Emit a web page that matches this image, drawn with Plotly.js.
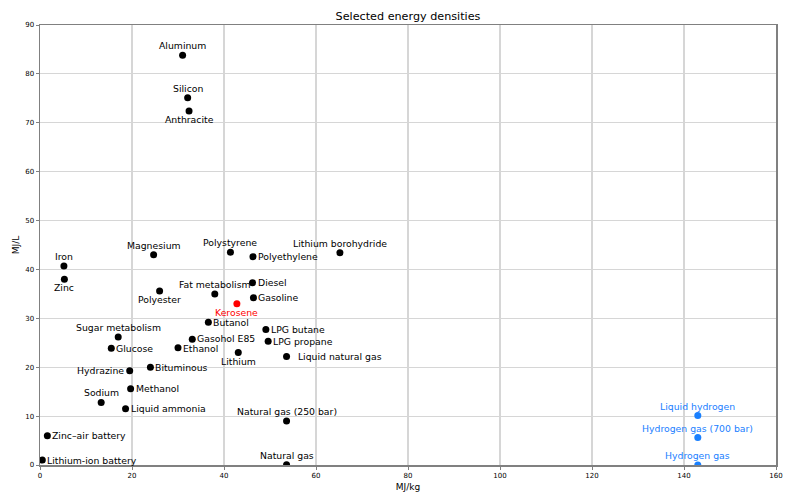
<!DOCTYPE html>
<html>
<head>
<meta charset="utf-8">
<script src="https://cdn.plot.ly/plotly-3.0.1.min.js"></script>
<style>html,body{margin:0;padding:0;background:#fff;}#chart{width:800px;height:500px;}</style>
</head>
<body>
<div id="chart"></div>
<script>
// Data (MJ/kg, MJ/L)
const names = ["Aluminum","Silicon","Anthracite","Iron","Zinc","Magnesium","Polyester",
  "Sugar metabolism","Glucose","Hydrazine","Bituminous","Methanol","Sodium","Liquid ammonia",
  "Zinc–air battery","Lithium-ion battery","Ethanol","Gasohol E85","Polystyrene","Polyethylene",
  "Lithium borohydride","Fat metabolism","Diesel","Gasoline","Kerosene","Butanol","LPG butane",
  "LPG propane","Lithium","Liquid natural gas","Natural gas (250 bar)","Natural gas",
  "Liquid hydrogen","Hydrogen gas (700 bar)","Hydrogen gas"];
const mjPerKg = [31.0,32.1,32.4,5.2,5.3,24.7,26.0,
  17.0,15.5,19.5,24.0,19.7,13.3,18.6,
  1.6,0.5,30.0,33.1,41.4,46.3,
  65.2,38.0,46.2,46.4,42.8,36.6,49.1,
  49.6,43.1,53.6,53.6,53.6,
  143.0,143.0,143.0];
const mjPerL = [83.8,75.1,72.4,40.7,38.0,43.0,35.6,
  26.2,23.9,19.3,20.0,15.6,12.8,11.5,
  6.0,1.0,24.0,25.7,43.5,42.6,
  43.4,35.0,37.3,34.2,33.0,29.2,27.7,
  25.3,23.0,22.2,9.0,0.0364,
  10.1,5.6,0.0108];
const group = ["other","other","other","other","other","other","other",
  "other","other","other","other","other","other","other",
  "other","other","other","other","other","other",
  "other","other","other","other","kerosene","other","other",
  "other","other","other","other","other",
  "hydrogen","hydrogen","hydrogen"];

// Label placement (style): T = above, B = below, R = right, L = left
const labelSide = ["T","T","B","T","B","T","B",
  "T","R","L","R","R","T","R",
  "R","R","R","R","T","R",
  "T","T","R","R","B","R","R",
  "R","B","R","T","T",
  "T","T","T"];
const colorMap = {other:"#000000", kerosene:"#ff0000", hydrogen:"#1a80ff"};
const colors = group.map(g => colorMap[g]);
const labelFont = {family: "DejaVu Sans", size: 9.3};

const trace = {
  type: "scatter",
  mode: "markers",
  x: mjPerKg,
  y: mjPerL,
  text: names,
  marker: {size: 7, color: colors},
  hoverinfo: "text",
  cliponaxis: true
};

const annotations = names.map((n, i) => {
  const s = labelSide[i];
  const a = {
    x: mjPerKg[i], y: mjPerL[i], xref: "x", yref: "y",
    text: (n === "Liquid natural gas" ? "  " : "") + n,
    showarrow: false,
    font: Object.assign({color: colors[i]}, labelFont),
    borderpad: 0, borderwidth: 0,
    xanchor: "center", yanchor: "middle", xshift: 0, yshift: 0
  };
  if (s === "T") { a.yshift = 9.5; }
  else if (s === "B") { a.yshift = -8.5; }
  else if (s === "R") { a.xanchor = "left"; a.xshift = 5; }
  else if (s === "L") { a.xanchor = "right"; a.xshift = -5.5; }
  if (n === "Gasohol E85") a.yshift = 0.8;
  if (n === "Ethanol") a.yshift = -0.8;
  return a;
});

const axisCommon = {
  showline: true, mirror: true, linecolor: "#808080", linewidth: 1.5,
  ticks: "outside", ticklen: 3, tickcolor: "#808080", tickwidth: 1,
  showgrid: true, gridcolor: "#d6d6d6", gridwidth: 1.2,
  zeroline: false,
  tickfont: {family: "DejaVu Sans", size: 7, color: "#000"}
};

const layout = {
  width: 800, height: 500,
  margin: {l: 40, r: 24, t: 25, b: 35},
  paper_bgcolor: "#fff", plot_bgcolor: "#fff",
  showlegend: false,
  annotations: annotations,
  title: {text: "Selected energy densities", font: {family: "DejaVu Sans", size: 11.2, color: "#000"},
    x: 0.51, xanchor: "center", y: 0.968, yanchor: "middle"},
  xaxis: Object.assign({}, axisCommon, {range: [0, 160], dtick: 20,
    title: {text: "MJ/kg", font: {family: "DejaVu Sans", size: 9, color: "#000"}, standoff: 5}}),
  yaxis: Object.assign({}, axisCommon, {range: [0, 90], dtick: 10,
    title: {text: "MJ/L", font: {family: "DejaVu Sans", size: 9, color: "#000"}, standoff: 4}})
};

Plotly.newPlot("chart", [trace], layout, {displayModeBar: false, staticPlot: true});
</script>
</body>
</html>
